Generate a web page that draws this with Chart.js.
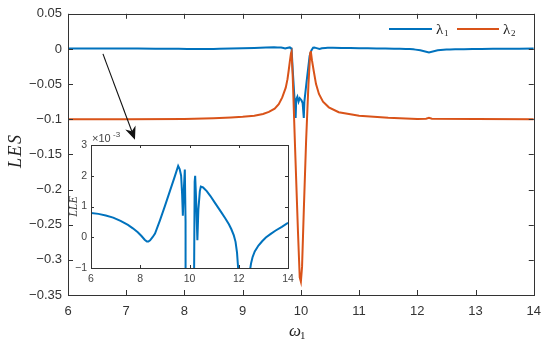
<!DOCTYPE html>
<html>
<head>
<meta charset="utf-8">
<script src="https://cdn.jsdelivr.net/npm/chart.js@4.4.0/dist/chart.umd.min.js"></script>
<style>
  html, body { margin: 0; padding: 0; background: #fff; }
  #wrap { position: relative; width: 550px; height: 344px; }
  #wrap canvas { position: absolute; left: 0; top: 0; }
</style>
</head>
<body>
<div id="wrap">
  <canvas id="chart" width="550" height="344"></canvas>
  <canvas id="inset" width="550" height="344"></canvas>
</div>
<script>
const w1Blue = [6, 6.3, 6.6, 6.9, 7.2, 7.5, 7.7, 7.9, 8.05, 8.18, 8.27, 8.33, 8.4, 8.5, 8.6, 8.8, 9.0, 9.2,
  9.4, 9.54, 9.6, 9.66, 9.7, 9.73, 9.76, 9.81, 9.84,
  9.86, 9.89, 9.91, 9.92, 9.94, 9.96, 9.98, 10.01, 10.03, 10.05, 10.06, 10.1, 10.15, 10.18, 10.21, 10.23,
  10.27, 10.32, 10.36, 10.42, 10.46, 10.55, 10.7, 10.85, 11.0, 11.15, 11.3, 11.45, 11.6, 11.7, 11.8, 11.87,
  11.93, 11.97, 12.05, 12.2, 12.35, 12.45, 12.5, 12.56, 12.65, 12.8, 12.95, 13.1, 13.3, 13.5, 13.75, 14];
const lambda1 = [0.00079, 0.00076, 0.00071, 0.00064, 0.00053, 0.0004, 0.00029, 0.00016, 0.00004, -0.00008,
  -0.00014, -0.00014, -0.0001, 0.0, 0.00012, 0.00055, 0.00101, 0.00149, 0.00197, 0.00232, 0.00222, 0.002,
  0.0014, 0.0007, 0.0014, 0.0022, 0.0005,
  -0.03, -0.07, -0.098, -0.072, -0.068, -0.075, -0.07, -0.073, -0.077, -0.098, -0.075, -0.045, -0.01, -0.002,
  0.0018, 0.002, 0.0012, -0.0001, 0.0009, 0.0015, 0.00165, 0.00162, 0.0015, 0.00134, 0.00116, 0.00098,
  0.0008, 0.00062, 0.00042, 0.00026, 0.00006, -0.00015, -0.0005, -0.00095, -0.002, -0.005, -0.002, -0.0011,
  -0.00085, -0.00065, -0.00046, -0.00027, -0.00013, -0.00001, 0.00011, 0.00022, 0.00034, 0.00047];

// lambda_2 (red)
const w1Red = [6, 7, 8, 8.5, 8.8, 9.0, 9.2, 9.35, 9.45, 9.55, 9.62, 9.68, 9.74, 9.77, 9.79, 9.81, 9.83, 9.84,
  9.86, 9.9, 9.95, 9.98, 10.0, 10.02, 10.05, 10.09, 10.13, 10.16, 10.17, 10.19, 10.22, 10.26, 10.31, 10.38,
  10.48, 10.65, 10.85, 11.0, 11.5, 12.0, 12.15, 12.2, 12.25, 13, 14];
const lambda2 = [-0.1, -0.1, -0.0995, -0.0985, -0.0975, -0.0965, -0.095, -0.0925, -0.0895, -0.085, -0.0785,
  -0.069, -0.055, -0.043, -0.031, -0.018, -0.006, -0.004, -0.04, -0.14, -0.26, -0.325, -0.331, -0.31, -0.23,
  -0.13, -0.05, -0.006, -0.003, -0.016, -0.031, -0.05, -0.064, -0.075, -0.083, -0.09, -0.093, -0.095,
  -0.098, -0.0995, -0.0993, -0.098, -0.0993, -0.0998, -0.1];

const xTicks = [6, 7, 8, 9, 10, 11, 12, 13, 14];
const yTicks = [-0.35, -0.3, -0.25, -0.2, -0.15, -0.1, -0.05, 0, 0.05];
const insetXTicks = [6, 8, 10, 12, 14];
const insetYTicks = [-1, 0, 1, 2, 3];
const arrowFrom = [6.6, -0.007];
const arrowTo = [7.15, -0.129];

const BLUE = '#0072BD';
const RED = '#D95319';
const AXIS = '#333333';

function pts(xs, ys, k) {
  return xs.map((x, i) => ({ x: x, y: ys[i] * k }));
}

function fmt(v) {
  const s = (Math.round(v * 100) / 100).toString();
  return s.replace('-', '\u2212');
}

// box + inward ticks on all four sides, like MATLAB
function boxTicks(len, color) {
  return {
    id: 'boxTicks',
    afterDraw(chart) {
      const ctx = chart.ctx, a = chart.chartArea;
      const sx = chart.scales.x, sy = chart.scales.y;
      ctx.save();
      ctx.strokeStyle = color;
      ctx.lineWidth = 1;
      ctx.beginPath();
      sx.ticks.forEach(t => {
        const p = Math.round(sx.getPixelForValue(t.value)) + 0.5;
        ctx.moveTo(p, a.bottom); ctx.lineTo(p, a.bottom - len);
        ctx.moveTo(p, a.top); ctx.lineTo(p, a.top + len);
      });
      sy.ticks.forEach(t => {
        const p = Math.round(sy.getPixelForValue(t.value)) + 0.5;
        ctx.moveTo(a.left, p); ctx.lineTo(a.left + len, p);
        ctx.moveTo(a.right, p); ctx.lineTo(a.right - len, p);
      });
      ctx.stroke();
      ctx.strokeRect(Math.round(a.left) + 0.5, Math.round(a.top) + 0.5,
        Math.round(a.right - a.left), Math.round(a.bottom - a.top));
      ctx.restore();
    }
  };
}

const mainLabels = {
  id: 'mainLabels',
  afterDraw(chart) {
    const ctx = chart.ctx, a = chart.chartArea;
    ctx.save();
    ctx.fillStyle = '#222';
    // y title
    ctx.translate(16, (a.top + a.bottom) / 2 - 3);
    ctx.rotate(-Math.PI / 2);
    ctx.font = 'italic 18px "Liberation Serif"';
    ctx.textAlign = 'center';
    ctx.textBaseline = 'middle';
    ctx.fillText('L\u200AE\u200AS', 0, 0);
    ctx.restore();

    // x title  ω1
    ctx.save();
    ctx.fillStyle = '#222';
    ctx.textBaseline = 'alphabetic';
    ctx.font = 'italic 17px "Liberation Serif"';
    const cx = (a.left + a.right) / 2 - 4;
    ctx.fillText('\u03C9', cx - 8, 336);
    ctx.font = '11px "Liberation Serif"';
    ctx.fillText('1', cx + 3, 339);
    ctx.restore();

    // legend
    ctx.save();
    ctx.lineWidth = 2;
    const ly = 29;
    [[389, 432, BLUE, 436, '1'], [457, 499, RED, 503, '2']].forEach(e => {
      ctx.strokeStyle = e[2];
      ctx.beginPath(); ctx.moveTo(e[0], ly); ctx.lineTo(e[1], ly); ctx.stroke();
      ctx.fillStyle = '#222';
      ctx.font = '15px "Liberation Serif"';
      ctx.textBaseline = 'alphabetic';
      ctx.fillText('\u03BB', e[3], ly + 5);
      ctx.font = '9px "Liberation Serif"';
      ctx.fillText(e[4], e[3] + 8, ly + 7);
    });
    ctx.restore();
  }
};

const mainChart = new Chart(document.getElementById('chart'), {
  type: 'line',
  data: {
    datasets: [
      { label: '\u03BB1', data: pts(w1Blue, lambda1, 1), borderColor: BLUE, borderWidth: 2, pointRadius: 0, tension: 0, order: 1 },
      { label: '\u03BB2', data: pts(w1Red, lambda2, 1), borderColor: RED, borderWidth: 2, pointRadius: 0, tension: 0, order: 0 }
    ]
  },
  options: {
    responsive: false,
    animation: false,
    events: [],
    layout: { padding: { left: 0, top: 13, right: 14, bottom: 0 } },
    plugins: { legend: { display: false }, tooltip: { enabled: false } },
    scales: {
      x: {
        type: 'linear', min: 6, max: 14,
        afterBuildTicks: s => { s.ticks = xTicks.map(v => ({ value: v })); },
        afterFit: s => { s.height = 49; },
        grid: { display: false, drawTicks: false },
        border: { display: false },
        ticks: { color: '#333', font: { family: 'Liberation Sans', size: 13 }, padding: 9, maxRotation: 0 }
      },
      y: {
        type: 'linear', min: -0.35, max: 0.05,
        afterBuildTicks: s => { s.ticks = yTicks.map(v => ({ value: v })); },
        afterFit: s => { s.width = 68; },
        grid: { display: false, drawTicks: false },
        border: { display: false },
        ticks: { color: '#333', font: { family: 'Liberation Sans', size: 13 }, padding: 6, callback: v => fmt(v) }
      }
    }
  },
  plugins: [boxTicks(5, AXIS), mainLabels]
});

const insetDecor = {
  id: 'insetDecor',
  beforeDraw(chart) {
    const ctx = chart.ctx, a = chart.chartArea;
    ctx.save();
    ctx.fillStyle = '#fff';
    ctx.fillRect(a.left, a.top, a.right - a.left, a.bottom - a.top);
    ctx.restore();
  },
  afterDraw(chart) {
    const ctx = chart.ctx, a = chart.chartArea;
    ctx.save();
    ctx.fillStyle = '#444';
    ctx.textBaseline = 'alphabetic';
    ctx.font = '11px "Liberation Sans"';
    ctx.fillText('\u00D710', a.left + 1, a.top - 3);
    ctx.font = '8px "Liberation Sans"';
    ctx.fillText('-3', a.left + 22, a.top - 8);
    // y title
    ctx.translate(74, (a.top + a.bottom) / 2);
    ctx.rotate(-Math.PI / 2);
    ctx.font = 'italic 12px "Liberation Serif"';
    ctx.textAlign = 'center';
    ctx.textBaseline = 'middle';
    ctx.fillStyle = '#333';
    ctx.fillText('LLE', 0, 0);
    ctx.restore();

    // arrow from the main curve to the inset, in main data coordinates
    const mx = mainChart.scales.x, my = mainChart.scales.y;
    const x0 = mx.getPixelForValue(arrowFrom[0]), y0 = my.getPixelForValue(arrowFrom[1]);
    const x1 = mx.getPixelForValue(arrowTo[0]), y1 = my.getPixelForValue(arrowTo[1]);
    const ang = Math.atan2(y1 - y0, x1 - x0);
    const L = 13, W = 5.5, back = 9;
    ctx.save();
    ctx.strokeStyle = '#111';
    ctx.fillStyle = '#111';
    ctx.lineWidth = 1.1;
    ctx.beginPath();
    ctx.moveTo(x0, y0);
    ctx.lineTo(x1 - back * Math.cos(ang), y1 - back * Math.sin(ang));
    ctx.stroke();
    ctx.translate(x1, y1);
    ctx.rotate(ang);
    ctx.beginPath();
    ctx.moveTo(0, 0);
    ctx.lineTo(-L, -W);
    ctx.lineTo(-back, 0);
    ctx.lineTo(-L, W);
    ctx.closePath();
    ctx.fill();
    ctx.restore();
  }
};

new Chart(document.getElementById('inset'), {
  type: 'line',
  data: {
    datasets: [
      { label: 'LLE', data: pts(w1Blue, lambda1, 1000), borderColor: BLUE, borderWidth: 2, pointRadius: 0, tension: 0 }
    ]
  },
  options: {
    responsive: false,
    animation: false,
    events: [],
    layout: { padding: { left: 71, top: 145, right: 262, bottom: 58 } },
    plugins: { legend: { display: false }, tooltip: { enabled: false } },
    scales: {
      x: {
        type: 'linear', min: 6, max: 14,
        afterBuildTicks: s => { s.ticks = insetXTicks.map(v => ({ value: v })); },
        afterFit: s => { s.height = 18; },
        grid: { display: false, drawTicks: false },
        border: { display: false },
        ticks: { color: '#444', font: { family: 'Liberation Sans', size: 10.5 }, padding: 5, maxRotation: 0 }
      },
      y: {
        type: 'linear', min: -1, max: 3,
        afterBuildTicks: s => { s.ticks = insetYTicks.map(v => ({ value: v })); },
        afterFit: s => { s.width = 20; },
        grid: { display: false, drawTicks: false },
        border: { display: false },
        ticks: { color: '#444', font: { family: 'Liberation Sans', size: 10.5 }, padding: 4, callback: v => fmt(v) }
      }
    }
  },
  plugins: [boxTicks(3, AXIS), insetDecor]
});
</script>
</body>
</html>
